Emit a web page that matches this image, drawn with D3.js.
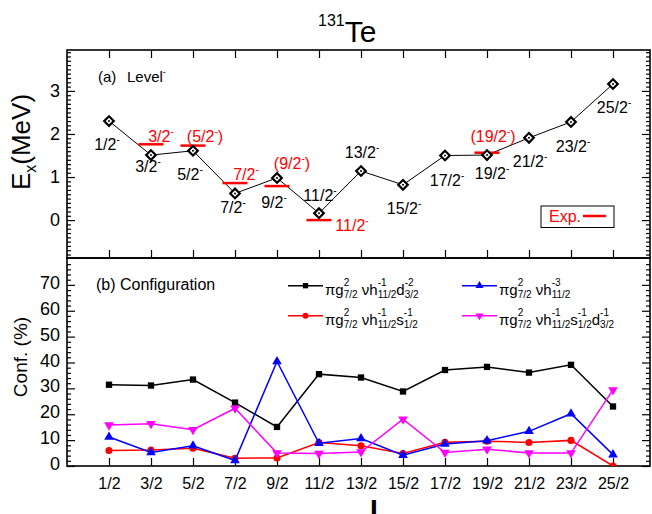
<!DOCTYPE html>
<html>
<head>
<meta charset="utf-8">
<script src="https://cdn.jsdelivr.net/npm/d3@7"></script>
<style>
  body { margin: 0; background: #fff; }
  svg { font-family: "Liberation Sans", Arial, sans-serif; }
</style>
</head>
<body>
<svg width="652" height="514"></svg>
<script>
// ---- data ----
const spins = ["1/2", "3/2", "5/2", "7/2", "9/2", "11/2", "13/2", "15/2", "17/2", "19/2", "21/2", "23/2", "25/2"];
const calcE = [2.30, 1.51, 1.61, 0.62, 0.98, 0.16, 1.14, 0.82, 1.50, 1.51, 1.91, 2.28, 3.16];

const expSpin = ["3/2", "5/2", "7/2", "9/2", "11/2", "19/2"];
const expE = [1.76, 1.73, 0.86, 0.79, 0.00, 1.565];
const expTentative = [false, true, false, true, false, true];

// configurations (%)
const confA = [31.4, 31.1, 33.4, 24.5, 15.1, 35.5, 34.2, 28.8, 37.1, 38.3, 36.1, 39.1, 23.0];
const confB = [6.0, 6.2, 6.9, 3.0, 3.1, 9.1, 7.8, 4.8, 9.2, 9.6, 9.1, 9.9, 0.0];
const confC = [11.2, 5.2, 7.8, 2.1, 40.4, 8.8, 10.6, 4.2, 8.5, 9.8, 13.4, 20.2, 4.4];
const confD = [15.8, 16.3, 14.0, 22.3, 5.0, 4.8, 5.4, 18.1, 5.2, 6.5, 5.0, 5.0, 29.4];

const eTicks = [0, 1, 2, 3];
const cTicks = [0, 10, 20, 30, 40, 50, 60, 70];

// label placement (pixel offsets from the point, layout only)
const calcLabelOff = [[-2, 29], [-3, 17], [-3, 29], [-2, 20], [-3, 30], [1, -12], [1, -13],
                      [1, 29], [2, 30], [5, 24], [1, 29], [2, 30], [1, 29]];
const expLabelOff = [[10, -2], [12, -4], [11, -3], [15, -17], [33, 11], [6, -11]];

const svg = d3.select("svg");
const L = 67, R = 650, T1 = 50, B1 = 258, B2 = 466;

const x = d3.scaleLinear().domain([-1, 12.881]).range([L, R]);
const yE = d3.scaleLinear().domain([-0.88, 3.95]).range([B1, T1]);
const yC = d3.scaleLinear().domain([0, 80]).range([B2, B1 + 1]);

// small helper: text with a trailing superscript minus
function spinLabel(g, px, py, s, tentative, color) {
  const t = g.append("text")
    .attr("x", px).attr("y", py)
    .attr("text-anchor", "middle")
    .attr("fill", color)
    .style("font-size", "16px");
  t.append("tspan").text((tentative ? "(" : "") + s);
  t.append("tspan").attr("dy", -7).style("font-size", "10px").text("-");
  if (tentative) t.append("tspan").attr("dy", 7).text(")");
  return t;
}

// stacked super/subscript text (Origin style)
function richText(g, x0, y0, parts, size, subSize) {
  let cx = x0;
  parts.forEach(p => {
    if (typeof p === "string") {
      const t = g.append("text").attr("x", cx).attr("y", y0)
        .style("font-size", size + "px").attr("xml:space", "preserve").text(p);
      cx += t.node().getComputedTextLength();
    } else {
      const a = g.append("text").attr("x", cx).attr("y", y0 - 9)
        .style("font-size", subSize + "px").text(p.sup);
      const b = g.append("text").attr("x", cx).attr("y", y0 + 3.5)
        .style("font-size", subSize + "px").text(p.sub);
      cx += Math.max(a.node().getComputedTextLength(), b.node().getComputedTextLength());
    }
  });
}

// ---- title ----
const title = svg.append("text").attr("x", 318).attr("y", 42);
title.append("tspan").attr("dy", -16).style("font-size", "16px").text("131");
title.append("tspan").attr("dy", 16).style("font-size", "30px").text("Te");

// ---- axes helpers ----
function yAxes(scale, major, minor, fmt) {
  const g = svg.append("g");
  const left = g.append("g").attr("transform", `translate(${L},0)`)
    .call(d3.axisLeft(scale).tickValues(major).tickSize(-8).tickPadding(7).tickFormat(fmt));
  left.selectAll("text").style("font-size", "18px").attr("fill", "#000");
  g.append("g").attr("transform", `translate(${L},0)`)
    .call(d3.axisLeft(scale).tickValues(minor).tickSize(-4).tickFormat(""));
  g.append("g").attr("transform", `translate(${R},0)`)
    .call(d3.axisRight(scale).tickValues(major).tickSize(-8).tickFormat(""));
  g.append("g").attr("transform", `translate(${R},0)`)
    .call(d3.axisRight(scale).tickValues(minor).tickSize(-4).tickFormat(""));
  g.selectAll(".domain").remove();
  g.selectAll(".tick line").attr("stroke", "#000").attr("stroke-width", 1.2);
  return left;
}

// upper panel ticks
yAxes(yE, eTicks, d3.range(-8, 40).map(d => d / 10).filter(d => d >= -0.88 && d <= 3.95 && Math.abs(d * 10 % 10) > 0.01), d3.format("d"));
// lower panel ticks
const lowerLeft = yAxes(yC, cTicks, d3.range(0, 81, 2).filter(d => d % 10 !== 0), d3.format("d"));
lowerLeft.selectAll("text").attr("dy", "0.2em");

const xt = svg.append("g");
xt.append("g").attr("transform", `translate(0,${T1})`)
  .call(d3.axisTop(x).tickValues(d3.range(13)).tickSize(-8).tickFormat(""));
xt.append("g").attr("transform", `translate(0,${B1})`)
  .call(d3.axisBottom(x).tickValues(d3.range(13)).tickSize(-8).tickFormat(""));
const xb = xt.append("g").attr("transform", `translate(0,${B2})`)
  .call(d3.axisBottom(x).tickValues(d3.range(13)).tickSize(-8).tickPadding(12).tickFormat(i => spins[i]));
xb.selectAll("text").style("font-size", "16px").attr("fill", "#000");
xt.selectAll(".domain").remove();
xt.selectAll(".tick line").attr("stroke", "#000").attr("stroke-width", 1.2);

// frames
svg.append("rect").attr("x", L).attr("y", T1).attr("width", R - L).attr("height", B1 - T1)
  .attr("fill", "none").attr("stroke", "#000").attr("stroke-width", 1.6);
svg.append("rect").attr("x", L).attr("y", B1).attr("width", R - L).attr("height", B2 - B1)
  .attr("fill", "none").attr("stroke", "#000").attr("stroke-width", 1.6);

// axis titles
const ey = svg.append("text").attr("transform", "translate(30,142) rotate(-90)")
  .attr("text-anchor", "middle").style("font-size", "26px");
ey.append("tspan").text("E");
ey.append("tspan").attr("dy", 6).style("font-size", "16px").text("x");
ey.append("tspan").attr("dy", -6).text("(MeV)");

svg.append("text").attr("transform", "translate(27,357) rotate(-90)")
  .attr("text-anchor", "middle").style("font-size", "19px").text("Conf. (%)");

svg.append("text").attr("x", 374).attr("y", 519).attr("text-anchor", "middle")
  .style("font-size", "28px").style("font-weight", "bold").text("I");

// ---- upper panel: levels ----
const up = svg.append("g");
up.append("text").attr("x", 98).attr("y", 82).style("font-size", "15px").text("(a)");
const lv = up.append("text").attr("x", 127).attr("y", 82).style("font-size", "15px");
lv.append("tspan").text("Level");
lv.append("tspan").attr("dy", -7).style("font-size", "9px").text("-");

up.append("path")
  .datum(calcE)
  .attr("d", d3.line().x((d, i) => x(i)).y(d => yE(d)))
  .attr("fill", "none").attr("stroke", "#000").attr("stroke-width", 1);

// experimental bars
expE.forEach((e, k) => {
  const i = spins.indexOf(expSpin[k]);
  up.append("line")
    .attr("x1", x(i) - 12.5).attr("x2", x(i) + 12.5)
    .attr("y1", yE(e)).attr("y2", yE(e))
    .attr("stroke", "#ff0000").attr("stroke-width", 2.5);
  spinLabel(up, x(i) + expLabelOff[k][0], yE(e) + expLabelOff[k][1], expSpin[k], expTentative[k], "#ff0000");
});

// diamonds
const dia = up.selectAll("g.dia").data(calcE).join("g")
  .attr("transform", (d, i) => `translate(${x(i)},${yE(d)})`);
dia.append("path")
  .attr("d", d3.symbol(d3.symbolSquare, 46)())
  .attr("transform", "rotate(45)")
  .attr("fill", "#fff").attr("stroke", "#000").attr("stroke-width", 2.2);
dia.append("circle").attr("r", 1).attr("fill", "#000");

calcE.forEach((e, i) => {
  spinLabel(up, x(i) + calcLabelOff[i][0], yE(e) + calcLabelOff[i][1], spins[i], false, "#000");
});

// Exp. legend
up.append("rect").attr("x", 541).attr("y", 206).attr("width", 73).attr("height", 21.5)
  .attr("fill", "#fff").attr("stroke", "#000").attr("stroke-width", 1);
up.append("text").attr("x", 549).attr("y", 221.5).attr("fill", "#ff0000")
  .style("font-size", "16px").text("Exp.");
up.append("line").attr("x1", 583).attr("x2", 606).attr("y1", 216).attr("y2", 216)
  .attr("stroke", "#ff0000").attr("stroke-width", 2.5);

// ---- lower panel: configurations ----
const low = svg.append("g");
low.append("text").attr("x", 96).attr("y", 290).style("font-size", "16px").text("(b) Configuration");

svg.append("clipPath").attr("id", "clipLow")
  .append("rect").attr("x", L).attr("y", B1).attr("width", R - L).attr("height", B2 - B1);

const series = [
  { vals: confA, color: "#000000", sym: d3.symbolSquare, size: 40, rot: 0 },
  { vals: confB, color: "#ff0000", sym: d3.symbolCircle, size: 40, rot: 0 },
  { vals: confC, color: "#0000ff", sym: d3.symbolTriangle, size: 40, rot: 0 },
  { vals: confD, color: "#ff00ff", sym: d3.symbolTriangle, size: 40, rot: 180 }
];

const plot = low.append("g").attr("clip-path", "url(#clipLow)");
series.forEach(s => {
  plot.append("path").datum(s.vals)
    .attr("d", d3.line().x((d, i) => x(i)).y(d => yC(d)))
    .attr("fill", "none").attr("stroke", s.color).attr("stroke-width", 1.5);
  plot.selectAll(null).data(s.vals).join("path")
    .attr("d", d3.symbol(s.sym, s.size)())
    .attr("transform", (d, i) => `translate(${x(i)},${yC(d)}) rotate(${s.rot})`)
    .attr("fill", s.color);
});

// legend
const legendItems = [
  { s: series[0], lx: 288, ly: 285.7, parts: ["\u03c0g", { sup: "2", sub: "7/2" }, " \u03bdh", { sup: "-1", sub: "11/2" }, "d", { sup: "-2", sub: "3/2" }] },
  { s: series[1], lx: 288, ly: 315.7, parts: ["\u03c0g", { sup: "2", sub: "7/2" }, " \u03bdh", { sup: "-1", sub: "11/2" }, "s", { sup: "-1", sub: "1/2" }] },
  { s: series[2], lx: 462, ly: 285.7, parts: ["\u03c0g", { sup: "2", sub: "7/2" }, " \u03bdh", { sup: "-3", sub: "11/2" }] },
  { s: series[3], lx: 462, ly: 315.7, parts: ["\u03c0g", { sup: "2", sub: "7/2" }, " \u03bdh", { sup: "-1", sub: "11/2" }, "s", { sup: "-1", sub: "1/2" }, "d", { sup: "-1", sub: "3/2" }] }
];
const leg = low.append("g");
legendItems.forEach(it => {
  leg.append("line").attr("x1", it.lx).attr("x2", it.lx + 35).attr("y1", it.ly).attr("y2", it.ly)
    .attr("stroke", it.s.color).attr("stroke-width", 1.5);
  leg.append("path").attr("d", d3.symbol(it.s.sym, 28)())
    .attr("transform", `translate(${it.lx + 17.5},${it.ly}) rotate(${it.s.rot})`)
    .attr("fill", it.s.color);
  richText(leg, it.lx + 37, it.ly + 9, it.parts, 15, 10);
});
</script>
</body>
</html>
